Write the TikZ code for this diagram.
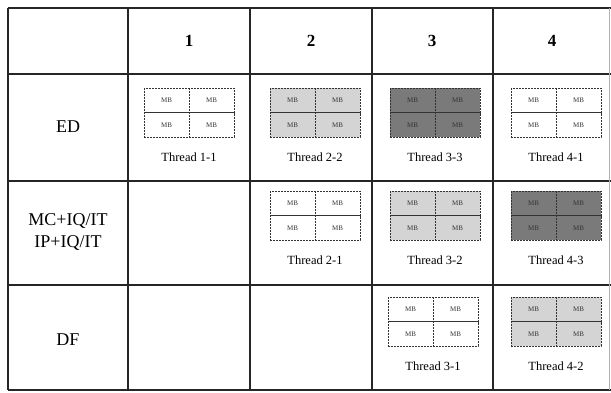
\documentclass[tikz,border=0pt]{standalone}
\usepackage{fontspec}
\setmainfont{Liberation Serif}
\colorlet{lite}{black!17}
\colorlet{dark}{black!52}
\begin{document}
\begin{tikzpicture}[x=1pt,y=-1pt,
  grid/.style={line width=1.5pt,black!85},
  mb/.style={draw=black!80,dash pattern=on 2pt off 1pt,line width=1pt,minimum width=45pt,minimum height=24.5pt,inner sep=0pt,font=\fontsize{7}{7}\selectfont,text=black!80},
  lbl/.style={font=\fontsize{12.5}{12.5}\selectfont},
  hdr/.style={font=\fontsize{17}{17}\selectfont\bfseries},
  rowlbl/.style={font=\fontsize{18}{22}\selectfont,align=center}]
\useasboundingbox (0,0) rectangle (611,392);
% table
\foreach \y in {8,74,181,285,390} \draw[grid] (8,\y) -- (611,\y);
\foreach \x in {8,128,250,372,493} \draw[grid] (\x,8) -- (\x,390);
\draw[line width=1pt,black!30] (609.5,8) -- (609.5,390);
% headers
\node[hdr] (h1) at (189,41) {1}; \node[hdr] (h2) at (311,41) {2};
\node[hdr] (h3) at (432,41) {3}; \node[hdr] (h4) at (552,41) {4};
\node[rowlbl] (ed) at (68,127) {ED};
\node[rowlbl] (mc) at (68,232) {MC+IQ/IT\\IP+IQ/IT};
\node[rowlbl] (df) at (68,340) {DF};
% macroblock groups
\foreach \n/\cx/\t/\f/\lab in {t11/189/88/white/1-1, t22/315/88/lite/2-2, t33/435/88/dark/3-3, t41/556/88/white/4-1,
    t21/315/191/white/2-1, t32/435/191/lite/3-2, t43/556/191/dark/4-3,
    t31/433/297/white/3-1, t42/556/297/lite/4-2} {
  \node[mb,fill=\f] (\n-a) at (\cx-22.5,\t+12.25) {MB};
  \node[mb,fill=\f] (\n-b) at (\cx+22.5,\t+12.25) {MB};
  \node[mb,fill=\f] (\n-c) at (\cx-22.5,\t+36.75) {MB};
  \node[mb,fill=\f] (\n-d) at (\cx+22.5,\t+36.75) {MB};
  \node[lbl] (\n-l) at (\cx,\t+69) {Thread \lab};
}
\end{tikzpicture}
\end{document}
